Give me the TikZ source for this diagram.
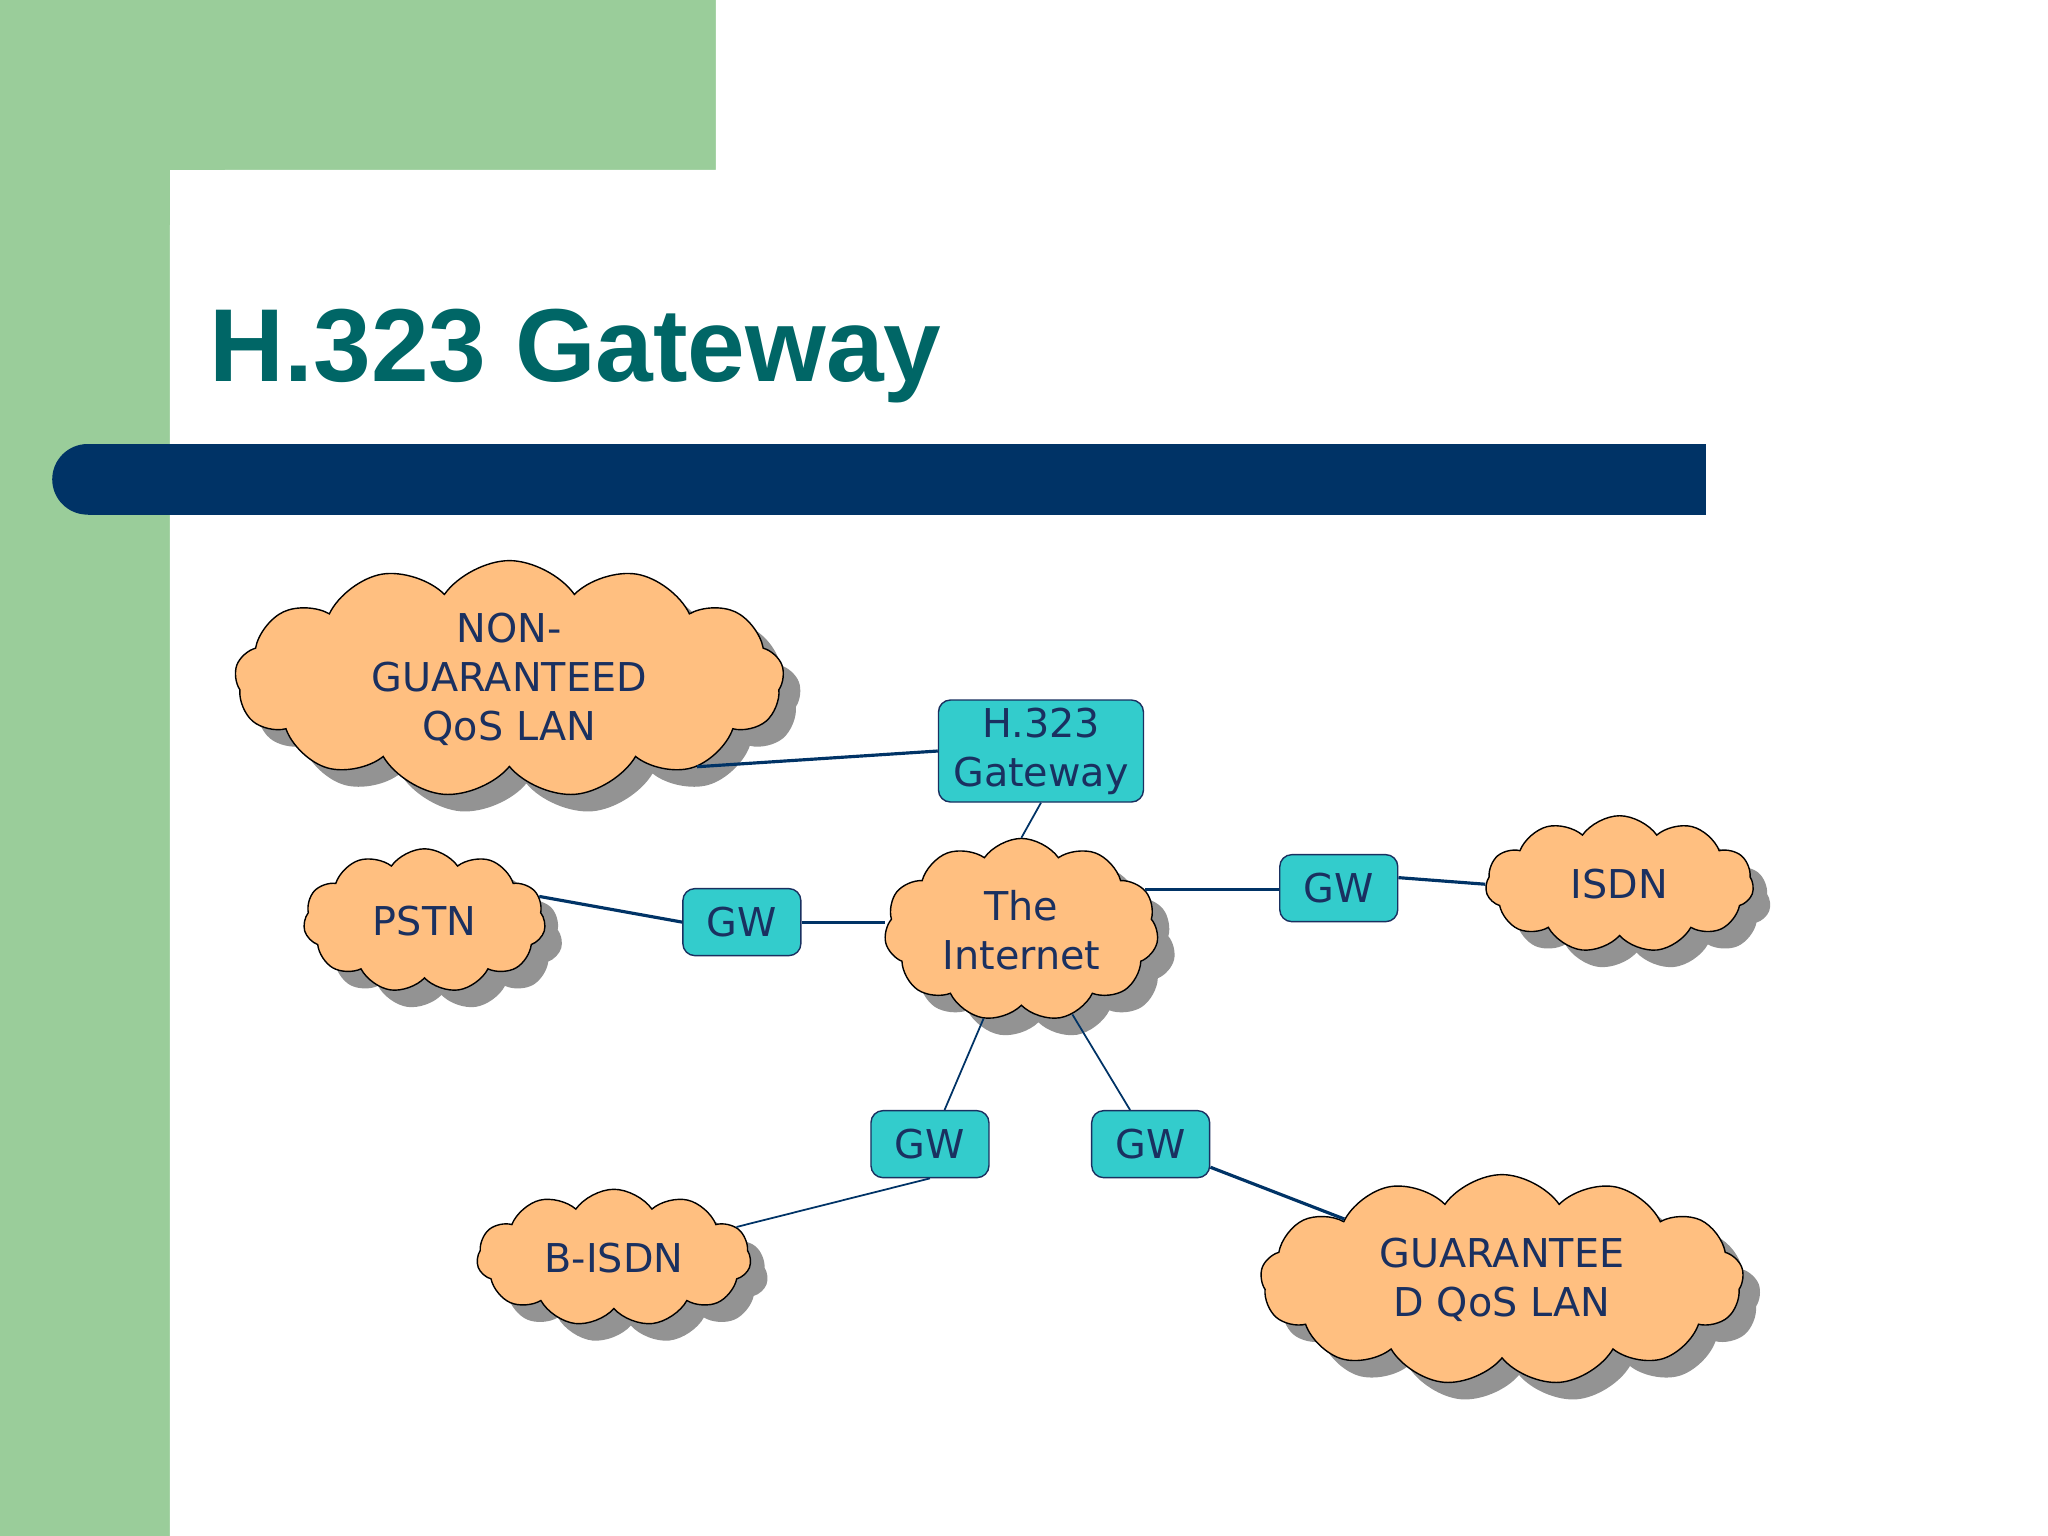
\documentclass[tikz,border=0pt]{standalone}
\usepackage{fontspec}
\setmainfont{DejaVu Sans}
\newfontfamily\titlefont{Liberation Sans}
\usetikzlibrary{shapes.symbols,shadows}
\definecolor{sidegreen}{HTML}{9ACD9A}
\definecolor{barblue}{HTML}{003366}
\definecolor{titleteal}{HTML}{006666}
\definecolor{cloudorange}{HTML}{FFBF80}
\definecolor{boxteal}{HTML}{33CCCC}
\definecolor{textnavy}{HTML}{1A3060}
\tikzset{
  net/.style={cloud, cloud puffs=13, cloud puff arc=110, aspect=2, draw=black, fill=cloudorange,
    text=textnavy, align=center, font=\fontsize{11.3}{14}\selectfont, inner sep=0pt,
    copy shadow={shadow xshift=0.17cm, shadow yshift=-0.17cm, fill=gray!85, draw=none}},
  gw/.style={rectangle, rounded corners=0.12cm, draw=textnavy, fill=boxteal, text=textnavy,
    align=center, font=\fontsize{11.3}{14}\selectfont, inner sep=0pt},
  link/.style={draw=barblue, line width=0.9pt}
}
\begin{document}
\begin{tikzpicture}[x=0.01306cm, y=-0.01306cm]
\useasboundingbox (0,0) rectangle (1568,1176);
% slide background
\fill[sidegreen] (0,0) rectangle (548,130);
\fill[sidegreen] (0,0) rectangle (130,1176);
\fill[white] (130,1176) [rounded corners=0.6cm] -- (130,130) [sharp corners] -- (548,130) -- (548,0) -- (1568,0) -- (1568,1176) -- cycle;
\node[anchor=base west, text=titleteal, font=\titlefont\bfseries\fontsize{29.5}{34}\selectfont, inner sep=0pt] (title) at (160,292) {H.323 Gateway};
\fill[barblue] (67,340) rectangle (1306,394);
\fill[barblue] (67,367) circle[radius=0.353cm];
% clouds
\node[net, minimum width=5.49cm, minimum height=2.22cm] (nong) at (390,520) {NON-\\GUARANTEED\\QoS LAN};
\node[net, minimum width=2.42cm, minimum height=1.44cm, cloud puffs=11] (pstn) at (325,705) {PSTN};
\node[net, minimum width=2.74cm, minimum height=1.83cm, cloud puffs=11] (inet) at (782,712) {The\\Internet};
\node[net, minimum width=2.68cm, minimum height=1.37cm, cloud puffs=11] (isdn) at (1240,677) {ISDN};
\node[net, minimum width=2.74cm, minimum height=1.37cm, cloud puffs=11] (bisdn) at (470,963) {B-ISDN};
\node[net, minimum width=4.83cm, minimum height=1.76cm] (guar) at (1150,980) {GUARANTEE\\D QoS LAN};
% gateways
\node[gw, minimum width=2.05cm, minimum height=1.02cm] (h323) at (797,575) {H.323\\Gateway};
\node[gw, minimum width=1.18cm, minimum height=0.67cm] (gw1) at (568,706) {GW};
\node[gw, minimum width=1.18cm, minimum height=0.67cm] (gw2) at (1025,680) {GW};
\node[gw, minimum width=1.18cm, minimum height=0.67cm] (gw3) at (712,876) {GW};
\node[gw, minimum width=1.18cm, minimum height=0.67cm] (gw4) at (881,876) {GW};
% links
\draw[link] (nong.-25) -- (h323.west |- 0,575);
\draw[link, line width=0.5pt] (h323.south) -- (inet.north);
\draw[link] (pstn.12) -- (gw1.west);
\draw[link] (gw1) -- (gw1 -| inet.west);
\draw[link] (inet.18) -- (gw2.west |- inet.18);
\draw[link] (gw2.10) -- (isdn.west);
\draw[link, line width=0.5pt] (inet) -- (gw3);
\draw[link, line width=0.5pt] (gw3.south) -- (bisdn);
\draw[link, line width=0.5pt] (inet) -- (gw4);
\draw[link] (gw4) -- (guar);
\end{tikzpicture}
\end{document}
